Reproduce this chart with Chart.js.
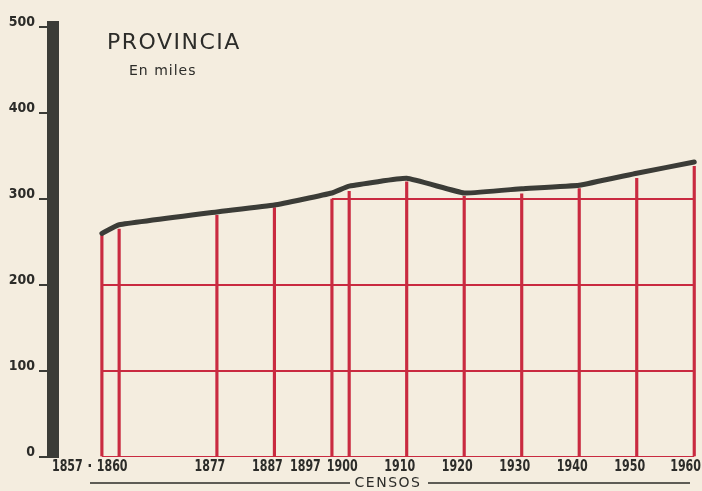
<!DOCTYPE html>
<html>
<head>
<meta charset="utf-8">
<script src="https://cdn.jsdelivr.net/npm/chart.js@4.4.1/dist/chart.umd.min.js"></script>
<style>
html, body { margin: 0; padding: 0; background: #f4eddf; }
#wrap { width: 702px; height: 491px; }
</style>
</head>
<body>
<div id="wrap"><canvas id="grafico"></canvas></div>
<script>
// años de censo
const censos = [1857, 1860, 1877, 1887, 1897, 1900, 1910, 1920, 1930, 1940, 1950, 1960];
// barras rojas, en miles
const barras = [258, 265, 281, 290, 300, 309, 320, 303, 306, 312, 324, 338];
// curva negra, en miles
const curva = [260, 270, 285, 293, 307, 315, 324, 307, 312, 316, 330, 343];
// niveles de la retícula roja
const niveles = [0, 100, 200, 300];
const ticksY = [0, 100, 200, 300, 400, 500];

const ROJO = '#c92a40';
const NEGRO = '#3b3c37';
const TINTA = '#2c2c29';

// tramos horizontales rojos: cada nivel va del primer al último censo que lo alcanza
const tramos = niveles.map(n => {
    const idx = censos.map((c, i) => i).filter(i => barras[i] >= n);
    return {
        type: 'line',
        data: [
            { x: censos[idx[0]], y: n },
            { x: censos[idx[idx.length - 1]], y: n }
        ],
        borderColor: ROJO,
        borderWidth: 2,
        pointRadius: 0,
        order: 2
    };
});

const textos = {
    id: 'textos',
    afterDraw(chart) {
        const { ctx, chartArea, scales: { x } } = chart;
        ctx.save();
        ctx.fillStyle = TINTA;
        ctx.strokeStyle = TINTA;

        ctx.textAlign = 'left';
        ctx.textBaseline = 'alphabetic';
        ctx.font = "22px 'DejaVu Sans', sans-serif";
        ctx.letterSpacing = '1.5px';
        ctx.fillText('PROVINCIA', 107, 49);
        ctx.font = "14px 'DejaVu Sans', sans-serif";
        ctx.letterSpacing = '1px';
        ctx.fillText('En miles', 129, 75);

        // etiquetas de los censos, colocadas de derecha a izquierda sin solaparse
        ctx.letterSpacing = '0px';
        ctx.font = "bold 15px 'DejaVu Sans Condensed', sans-serif";
        ctx.textBaseline = 'middle';
        ctx.textAlign = 'center';
        const sx = 0.82;
        const ly = chartArea.bottom + 10;
        let limite = chart.width - 1;
        const centros = [];
        for (let i = censos.length - 1; i >= 0; i--) {
            const w = ctx.measureText(String(censos[i])).width * sx;
            const cx = Math.min(x.getPixelForValue(censos[i]) - 7, limite - w / 2);
            centros[i] = cx;
            limite = cx - w / 2 - (i === 1 ? 14 : 6);
        }
        censos.forEach((c, i) => {
            ctx.save();
            ctx.translate(centros[i], ly);
            ctx.scale(sx, 1);
            ctx.fillText(String(c), 0, 0);
            ctx.restore();
        });
        ctx.fillText('·', (centros[0] + centros[1]) / 2, ly);

        // CENSOS
        const cy = chartArea.bottom + 26;
        ctx.font = "14px 'DejaVu Sans', sans-serif";
        ctx.letterSpacing = '1.5px';
        ctx.textAlign = 'center';
        ctx.fillText('CENSOS', 388, cy);
        ctx.lineWidth = 1.5;
        ctx.beginPath();
        ctx.moveTo(90, cy); ctx.lineTo(350, cy);
        ctx.moveTo(428, cy); ctx.lineTo(690, cy);
        ctx.stroke();
        ctx.restore();
    }
};

new Chart(document.getElementById('grafico'), {
    type: 'line',
    data: {
        datasets: [
            {
                type: 'line',
                data: censos.map((c, i) => ({ x: c, y: curva[i] })),
                borderColor: NEGRO,
                borderWidth: 5,
                borderCapStyle: 'round',
                tension: 0.1,
                pointRadius: 0,
                order: 0
            },
            {
                type: 'bar',
                data: censos.map((c, i) => ({ x: c, y: barras[i] })),
                backgroundColor: ROJO,
                barThickness: 2.5,
                order: 1
            },
            ...tramos
        ]
    },
    options: {
        responsive: true,
        maintainAspectRatio: false,
        animation: false,
        layout: { padding: { left: 0, right: 2, top: 27, bottom: 34 } },
        plugins: {
            legend: { display: false },
            tooltip: { enabled: false }
        },
        scales: {
            x: {
                type: 'linear',
                min: 1848.5,
                max: 1961,
                offset: false,
                display: false
            },
            y: {
                min: 0,
                max: 500,
                afterBuildTicks: s => { s.ticks = ticksY.map(v => ({ value: v })); },
                afterFit: s => { s.width = 53; },
                grid: { drawOnChartArea: false, drawTicks: true, tickLength: 14, color: NEGRO, lineWidth: 2 },
                border: { display: true, width: 12, color: NEGRO },
                ticks: {
                    padding: 4,
                    labelOffset: -5,
                    color: TINTA,
                    font: { family: "'DejaVu Sans Condensed', 'DejaVu Sans', sans-serif", weight: 'bold', size: 14 }
                }
            }
        }
    },
    plugins: [textos]
});
</script>
</body>
</html>
